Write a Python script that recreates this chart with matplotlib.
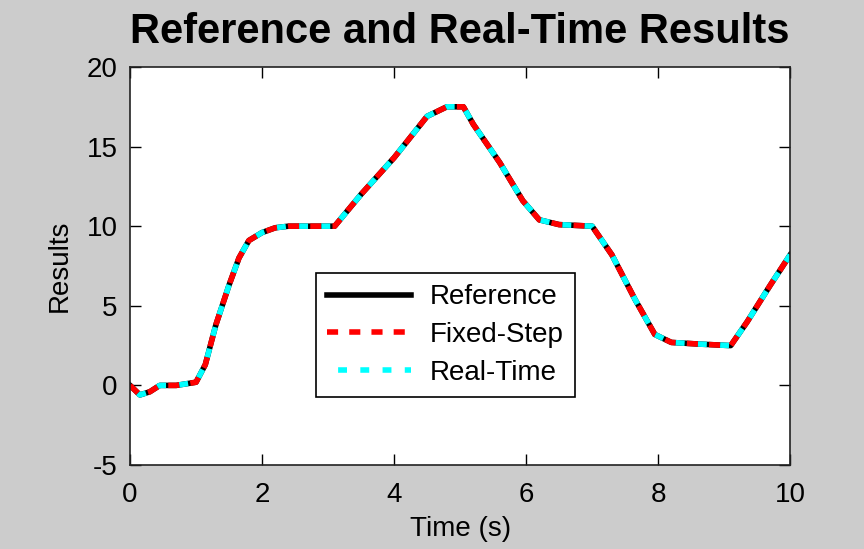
import matplotlib
matplotlib.use("Agg")
import matplotlib.pyplot as plt
import numpy as np

# values
time_s = [0.0, 0.15, 0.3, 0.45, 0.7, 1.0, 1.14, 1.3, 1.5, 1.65, 1.8, 2.0, 2.2,
          2.4, 2.8, 3.1, 3.5, 4.0, 4.5, 4.8, 5.05, 5.2, 5.6, 5.95, 6.2, 6.5,
          7.0, 7.3, 7.65, 7.95, 8.2, 8.6, 9.1, 9.35, 9.7, 10.0]
reference = [0.0, -0.6, -0.4, 0.0, 0.0, 0.2, 1.3, 3.8, 6.3, 8.0, 9.1, 9.6, 9.9,
             10.0, 10.0, 10.0, 12.0, 14.3, 16.9, 17.5, 17.5, 16.4, 14.0, 11.6,
             10.4, 10.1, 10.0, 8.2, 5.4, 3.2, 2.7, 2.6, 2.5, 4.0, 6.3, 8.2]
fixed_step = reference
real_time = reference

labels = ["Reference", "Fixed-Step", "Real-Time"]
xticks = [0, 2, 4, 6, 8, 10]
yticks = [-5, 0, 5, 10, 15, 20]

plt.rcParams["font.family"] = ["Liberation Sans", "DejaVu Sans"]
plt.rcParams["axes.unicode_minus"] = False

fig = plt.figure(figsize=(8.64, 5.49), dpi=100, facecolor="#cccccc")
ax = fig.add_axes([0.1505, 0.153, 0.764, 0.725])
ax.set_facecolor("white")

ax.plot(time_s, reference, color="black", lw=4, label=labels[0])
ax.plot(time_s, fixed_step, color="red", lw=4, ls=(0, (2, 2)), label=labels[1])
ax.plot(time_s, real_time, color="cyan", lw=4, ls=(2, (1.6, 2.4)), label=labels[2])

ax.set_xlim(0, 10)
ax.set_ylim(-5, 20)
ax.set_xticks(xticks)
ax.set_yticks(yticks)
ax.tick_params(direction="in", length=8, width=1, top=True, right=True,
               labelsize=20, colors="black")
ax.tick_params(axis="x", pad=12)
ax.tick_params(axis="y", pad=9)
for s in ax.spines.values():
    s.set_linewidth(1.2)
    s.set_color("#222222")

ax.set_xlabel("Time (s)", fontsize=20, labelpad=6)
ax.set_ylabel("Results", fontsize=20, labelpad=10)
ax.set_title("Reference and Real-Time Results", fontsize=30, fontweight="bold", pad=17)

leg = ax.legend(loc="lower left", bbox_to_anchor=(0.282, 0.171), fontsize=20,
                fancybox=False, edgecolor="black", framealpha=1, handlelength=3.0,
                borderpad=0.4, labelspacing=0.42, handletextpad=0.7,
                borderaxespad=0)
leg.get_frame().set_linewidth(1.2)

fig.savefig("out.png", dpi=100, facecolor=fig.get_facecolor())
